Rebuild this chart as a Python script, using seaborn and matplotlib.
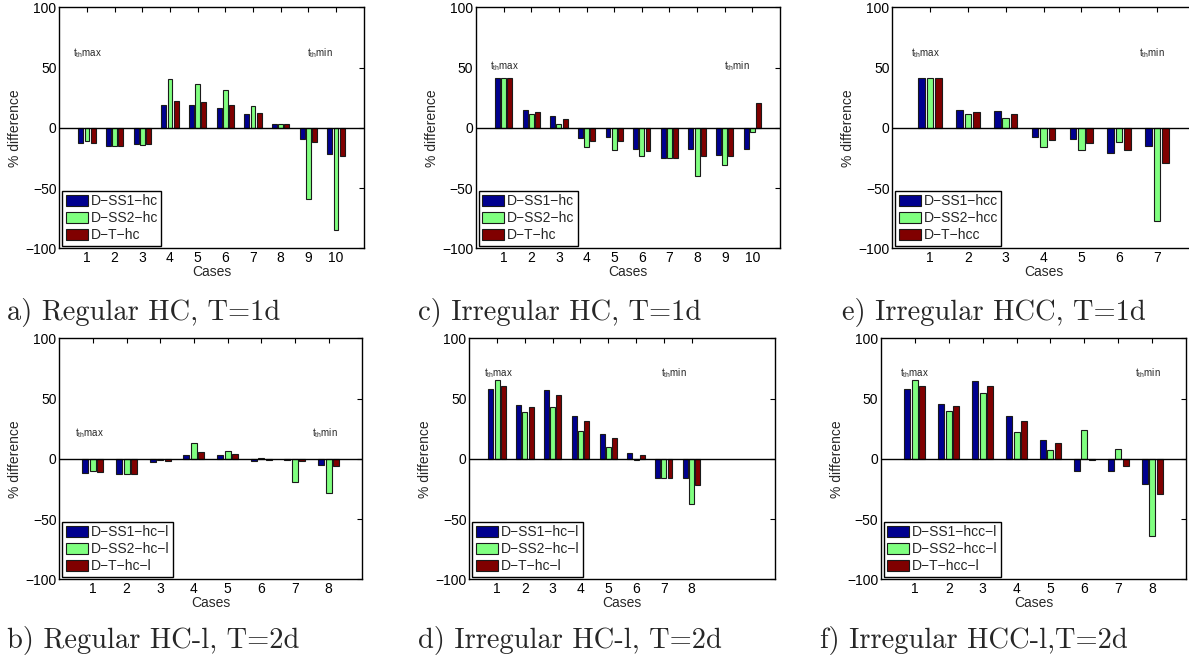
import numpy as np
import pandas as pd
import matplotlib
matplotlib.use("Agg")
import matplotlib.pyplot as plt
import seaborn as sns

sns.set_style("white")
plt.rcParams['font.family'] = ['Liberation Sans', 'DejaVu Sans']
plt.rcParams['mathtext.fontset'] = 'custom'
plt.rcParams['mathtext.rm'] = 'Liberation Sans'

# ---------------- data ----------------
cases_a = [1, 2, 3, 4, 5, 6, 7, 8, 9, 10]
a_ss1 = [-12.5, -15.2, -13.3, 18.6, 18.6, 16.6, 11.4, 2.8, -9.1, -21.6]
a_ss2 = [-10.8, -15.2, -13.9, 40.4, 36.6, 31.0, 18.0, 2.8, -59.3, -85.0]
a_t = [-12.2, -15.2, -13.6, 22.2, 21.3, 18.6, 11.9, 2.8, -11.4, -23.0]

cases_c = [1, 2, 3, 4, 5, 6, 7, 8, 9, 10]
c_ss1 = [41.6, 14.7, 9.7, -8.3, -7.5, -17.5, -24.7, -17.5, -22.2, -17.7]
c_ss2 = [41.0, 11.1, 2.8, -16.3, -18.6, -23.3, -24.7, -39.9, -31.0, -3.9]
c_t = [41.6, 12.7, 7.5, -10.8, -11.1, -19.1, -24.7, -23.0, -23.8, 20.2]

cases_e = [1, 2, 3, 4, 5, 6, 7]
e_ss1 = [41.6, 14.4, 13.9, -8.0, -9.7, -20.8, -14.7]
e_ss2 = [41.0, 11.1, 8.0, -16.3, -18.6, -11.6, -77.6]
e_t = [41.6, 13.0, 11.6, -10.5, -13.0, -18.8, -29.1]

cases_b = [1, 2, 3, 4, 5, 6, 7, 8]
b_ss1 = [-11.9, -12.2, -2.8, 3.3, 3.0, -1.9, -0.8, -5.3]
b_ss2 = [-10.5, -12.4, -1.1, 13.0, 6.4, 0.6, -19.1, -28.5]
b_t = [-11.3, -12.2, -2.2, 5.3, 3.6, -1.4, -1.7, -5.8]

cases_d = [1, 2, 3, 4, 5, 6, 7, 8]
d_ss1 = [58.1, 44.8, 57.0, 35.4, 20.2, 5.0, -16.3, -16.3]
d_ss2 = [65.6, 38.7, 42.9, 22.7, 9.7, -1.1, -16.3, -37.6]
d_t = [60.6, 42.6, 52.6, 31.5, 16.9, 3.3, -16.3, -21.9]

cases_f = [1, 2, 3, 4, 5, 6, 7, 8]
f_ss1 = [58.3, 45.5, 64.2, 35.8, 15.8, -10.3, -10.3, -20.8]
f_ss2 = [65.8, 40.0, 54.2, 22.5, 7.5, 23.6, 8.0, -63.9]
f_t = [60.8, 43.6, 60.8, 31.7, 12.8, -1.1, -5.8, -29.4]

labels_hc = ["D\u2212SS1\u2212hc", "D\u2212SS2\u2212hc", "D\u2212T\u2212hc"]
labels_hcc = ["D\u2212SS1\u2212hcc", "D\u2212SS2\u2212hcc", "D\u2212T\u2212hcc"]
labels_hcl = ["D\u2212SS1\u2212hc\u2212l", "D\u2212SS2\u2212hc\u2212l", "D\u2212T\u2212hc\u2212l"]
labels_hccl = ["D\u2212SS1\u2212hcc\u2212l", "D\u2212SS2\u2212hcc\u2212l", "D\u2212T\u2212hcc\u2212l"]

captions = ["a) Regular HC, T=1d", "c) Irregular HC, T=1d", "e) Irregular HCC, T=1d",
            "b) Regular HC-l, T=2d", "d) Irregular HC-l, T=2d", "f) Irregular HCC-l,T=2d"]

colors = ["#00008F", "#80FF80", "#800000"]

W, H = 1189, 663
fig = plt.figure(figsize=(W / 100, H / 100), dpi=100)

# panel specs: (cases, series, labels, px left, px right, px top, px bottom, xmax, tmax pos, tmin pos, caption xy)
panels = [
    (cases_a, [a_ss1, a_ss2, a_t], labels_hc, 59.3, 363.7, 7.3, 248.3, 11, (0.48, 62), (8.96, 62), (7, 320)),
    (cases_c, [c_ss1, c_ss2, c_t], labels_hc, 476.0, 780.0, 7.3, 248.3, 11, (0.5, 51), (8.96, 51), (418, 320)),
    (cases_e, [e_ss1, e_ss2, e_t], labels_hcc, 892.3, 1194.7, 7.3, 248.3, 8, (0.49, 62), (6.53, 62), (842, 320)),
    (cases_b, [b_ss1, b_ss2, b_t], labels_hcl, 59.3, 362.3, 338.3, 579.3, 9, (0.47, 21), (7.51, 21), (7, 648)),
    (cases_d, [d_ss1, d_ss2, d_t], labels_hcl, 469.3, 775.0, 338.3, 579.3, 11, (0.53, 71), (6.9, 71), (418, 648)),
    (cases_f, [f_ss1, f_ss2, f_t], labels_hccl, 881.0, 1186.0, 338.3, 579.3, 9, (0.56, 71), (7.49, 71), (820, 648)),
]

fs = 10
for (cases, series, labels, l, r, t, b, xmax, pmax, pmin, cap) in panels:
    ax = fig.add_axes([l / W, 1 - b / H, (r - l) / W, (b - t) / H])
    rows = []
    for lab, vals in zip(labels, series):
        for c, v in zip(cases, vals):
            rows.append({"case": c, "value": v, "series": lab})
    df = pd.DataFrame(rows)
    sns.barplot(data=df, x="case", y="value", hue="series", hue_order=labels,
                native_scale=True, width=0.667, gap=0.2, palette=colors, saturation=1,
                edgecolor="#1a1a1a", linewidth=0.8, ax=ax, errorbar=None)
    ax.axhline(0, color="black", lw=1.0, zorder=3)
    ax.set_xlim(0, xmax)
    ax.set_ylim(-100, 100)
    ax.set_xticks(cases)
    ax.set_xticklabels([str(c) for c in cases])
    ax.set_yticks([-100, -50, 0, 50, 100])
    ax.set_yticklabels(["\u2212100", "\u221250", "0", "50", "100"])
    ax.tick_params(direction="in", length=3.5, width=0.8, top=True, right=True,
                   labelsize=fs, pad=2, colors="black")
    for s in ax.spines.values():
        s.set_visible(True)
        s.set_color("black")
        s.set_linewidth(1.0)
    ax.set_xlabel("Cases", fontsize=fs, labelpad=0)
    ax.set_ylabel("% difference", fontsize=fs)
    ax.yaxis.set_label_coords(-44 / (r - l), 0.5)
    ax.xaxis.set_label_coords(0.5, -24 / (b - t))
    ax.xaxis.label.set_va("center")
    ax.yaxis.label.set_va("center")
    ax.text(pmax[0], pmax[1], r"$\mathregular{t_{th}}$max", fontsize=7, ha="left", va="center")
    ax.text(pmin[0], pmin[1], r"$\mathregular{t_{th}}$min", fontsize=7, ha="left", va="center")
    leg = ax.legend(loc="lower left", fontsize=fs, frameon=True, fancybox=False,
                    edgecolor="black", framealpha=1, borderaxespad=0.2,
                    handlelength=1.6, handleheight=0.8, labelspacing=0.2,
                    handletextpad=0.2, borderpad=0.25)
    leg.get_frame().set_linewidth(1.0)

for (p, txt) in zip(panels, captions):
    cap = p[10]
    fig.text(cap[0] / W, 1 - cap[1] / H, txt, family="cmr10", fontsize=20.5,
             ha="left", va="baseline")

fig.savefig("out.png", dpi=100)
